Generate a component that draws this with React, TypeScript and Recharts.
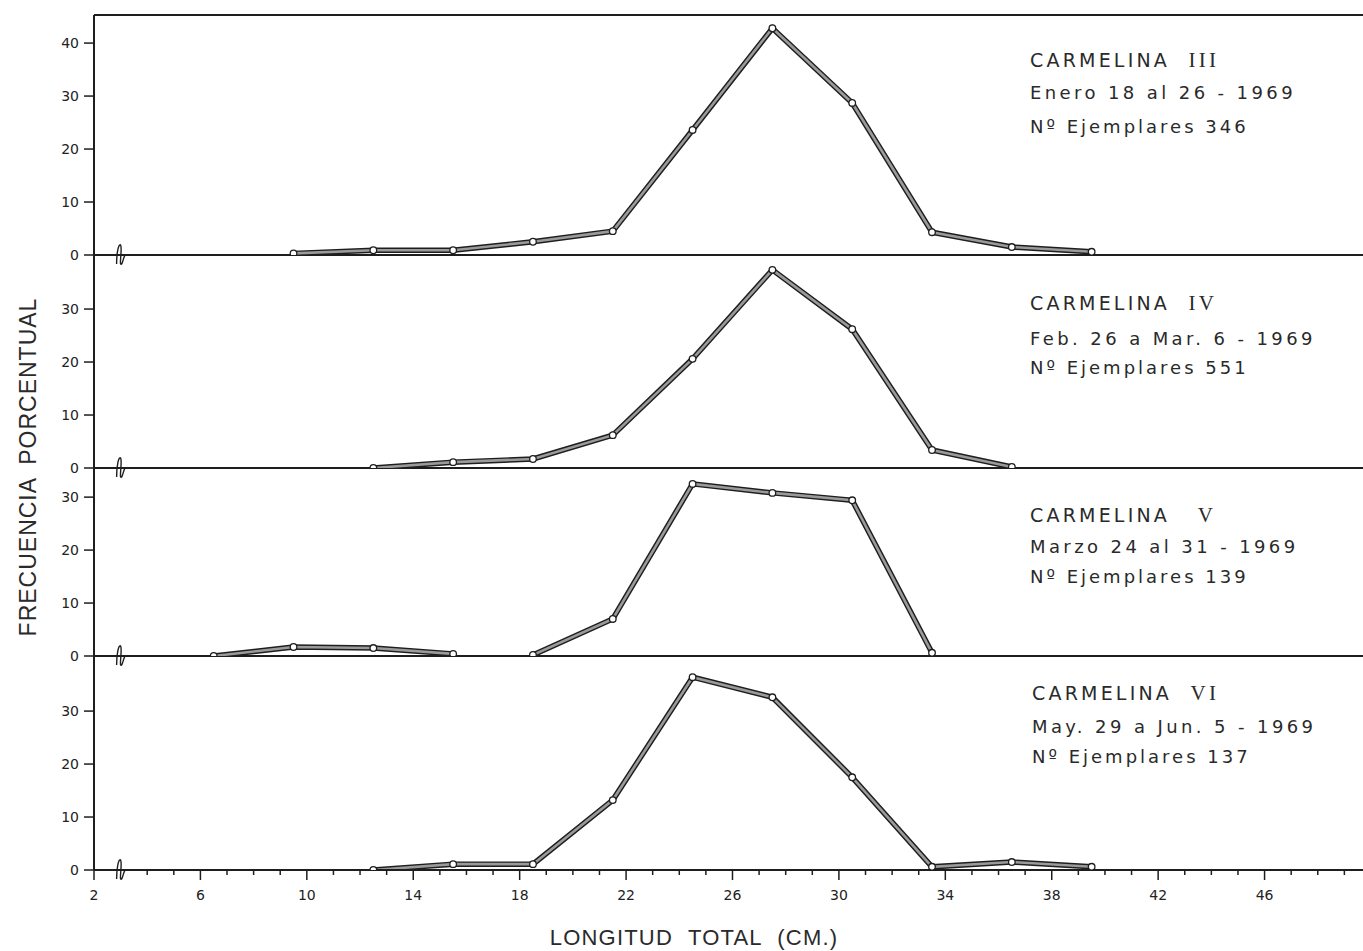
import React from "react";
import { LineChart, Line, XAxis, YAxis, ReferenceLine, ReferenceDot } from "recharts";

document.body.style.margin = "0";

// class midpoints (cm) and percentage frequency per sample
const III_X = [9.5, 12.5, 15.5, 18.5, 21.5, 24.5, 27.5, 30.5, 33.5, 36.5, 39.5];
const III_Y = [0.3, 0.9, 0.9, 2.5, 4.5, 23.6, 42.8, 28.7, 4.3, 1.5, 0.6];

const IV_X = [12.5, 15.5, 18.5, 21.5, 24.5, 27.5, 30.5, 33.5, 36.5];
const IV_Y = [0, 1.1, 1.7, 6.2, 20.6, 37.4, 26.2, 3.4, 0.2];

// Carmelina V is drawn in two pieces (no line between 15.5 and 18.5)
const V_X_A = [6.5, 9.5, 12.5, 15.5];
const V_Y_A = [0, 1.7, 1.5, 0.4];
const V_X_B = [18.5, 21.5, 24.5, 27.5, 30.5, 33.5];
const V_Y_B = [0.2, 7.0, 32.5, 30.8, 29.4, 0.6];

const VI_X = [12.5, 15.5, 18.5, 21.5, 24.5, 27.5, 30.5, 33.5, 36.5, 39.5];
const VI_Y = [0, 1.1, 1.1, 13.2, 36.4, 32.6, 17.5, 0.6, 1.5, 0.6];

const X_DOMAIN = [2, 49.7];
const X_TICKS = [2, 4, 5, 6, 7, 8, 9, 10, 11, 12, 13, 14, 15, 16, 17, 18, 19, 20, 21, 22, 23, 24, 25, 26, 27, 28, 29, 30, 31, 32, 33, 34, 35, 36, 37, 38, 39, 40, 41, 42, 43, 44, 45, 46, 47, 48, 49];
const X_LABELED = [2, 6, 10, 14, 18, 22, 26, 30, 34, 38, 42, 46];
const Y_TICKS_TOP = [0, 10, 20, 30, 40];
const Y_TICKS = [0, 10, 20, 30];

const INK = "#1e1e1e";
const FILL = "#9a9a9a";
const PAD = 20;

const toRows = (xs: number[], ys: number[], key = "y") => xs.map((x, i) => ({ x, [key]: ys[i] }));

function Dot(props: any) {
  const { cx, cy } = props;
  if (cx == null || cy == null) return null;
  return <circle cx={cx} cy={cy} r={3.3} fill="#fff" stroke={INK} strokeWidth={1.3} />;
}

function AxisBreak(props: any) {
  const { cx, cy } = props;
  return (
    <path
      d={`M ${cx - 4} ${cy + 9} C ${cx - 4} ${cy - 2}, ${cx - 2} ${cy - 12}, ${cx} ${cy - 10} C ${cx + 2} ${cy - 6}, ${cx - 2} ${cy + 12}, ${cx + 1} ${cy + 9} C ${cx + 3} ${cy + 6}, ${cx + 3} ${cy - 1}, ${cx + 6} ${cy}`}
      fill="none"
      stroke={INK}
      strokeWidth={1.4}
    />
  );
}

function XTick(props: any) {
  const { x, y, payload } = props;
  const major = X_LABELED.includes(payload.value);
  return (
    <g>
      <line x1={x} x2={x} y1={y} y2={y + (major ? 10 : 5)} stroke={INK} strokeWidth={1.5} />
      {major && (
        <text x={x} y={y + 30} textAnchor="middle" fontSize={14} fill="#222" fontFamily="DejaVu Sans">
          {payload.value}
        </text>
      )}
    </g>
  );
}

interface PanelProps {
  top: number;
  plotH: number;
  yMax: number;
  yTicks: number[];
  rows: any[];
  keys: string[];
  bottom?: boolean;
  frameTop?: boolean;
}

function Panel({ top, plotH, yMax, yTicks, rows, keys, bottom, frameTop }: PanelProps) {
  const xAxisH = bottom ? 40 : 0;
  return (
    <div style={{ position: "absolute", left: 0, top: top - PAD }}>
      <LineChart
        width={1363}
        height={plotH + PAD * 2 + xAxisH}
        data={rows}
        margin={{ top: PAD, right: 0, bottom: PAD, left: 0 }}
      >
        <XAxis
          type="number"
          dataKey="x"
          domain={X_DOMAIN}
          ticks={bottom ? X_TICKS : []}
          interval={0}
          height={xAxisH}
          axisLine={{ stroke: INK, strokeWidth: 2 }}
          tickLine={false}
          tickSize={0}
          tickMargin={0}
          tick={bottom ? <XTick /> : false}
          allowDataOverflow
        />
        <YAxis
          type="number"
          domain={[0, yMax]}
          ticks={yTicks}
          width={94}
          axisLine={{ stroke: INK, strokeWidth: 2 }}
          tickLine={{ stroke: INK, strokeWidth: 1.5 }}
          tickSize={10}
          tickMargin={5}
          tick={{ fontSize: 14, fill: "#222", fontFamily: "DejaVu Sans" }}
          allowDataOverflow
        />
        {frameTop && <ReferenceLine y={yMax} stroke={INK} strokeWidth={2} />}
        {!bottom && <ReferenceLine y={0} stroke={INK} strokeWidth={2} />}
        <ReferenceDot x={3} y={0} r={0} shape={<AxisBreak />} />
        {keys.map((k) => (
          <Line
            key={k + "o"}
            dataKey={k}
            type="linear"
            stroke={INK}
            strokeWidth={5.5}
            dot={false}
            activeDot={false}
            isAnimationActive={false}
          />
        ))}
        {keys.map((k) => (
          <Line
            key={k + "i"}
            dataKey={k}
            type="linear"
            stroke={FILL}
            strokeWidth={2.6}
            dot={<Dot />}
            activeDot={false}
            isAnimationActive={false}
          />
        ))}
      </LineChart>
    </div>
  );
}

function Legend({ left, tops, lines }: { left: number; tops: number[]; lines: [string, string, string] }) {
  const base: React.CSSProperties = {
    position: "absolute",
    left,
    whiteSpace: "pre",
    color: "#2a2a2a",
    fontFamily: "DejaVu Sans",
    lineHeight: "24px",
  };
  const [title, numeral] = lines[0].split("|");
  return (
    <>
      <div style={{ ...base, top: tops[0], fontSize: 19, letterSpacing: 3.2 }}>
        {title}
        <span style={{ fontFamily: "Liberation Serif", fontSize: 21 }}>{numeral}</span>
      </div>
      <div style={{ ...base, top: tops[1], fontSize: 18, letterSpacing: 3.4 }}>{lines[1]}</div>
      <div style={{ ...base, top: tops[2], fontSize: 18, letterSpacing: 3.0 }}>{lines[2]}</div>
    </>
  );
}

export default function App() {
  const rowsIII = toRows(III_X, III_Y);
  const rowsIV = toRows(IV_X, IV_Y);
  const rowsV = [...toRows(V_X_A, V_Y_A, "a"), ...toRows(V_X_B, V_Y_B, "b")];
  const rowsVI = toRows(VI_X, VI_Y);

  return (
    <div style={{ position: "relative", width: 1363, height: 951, background: "#fff", overflow: "hidden" }}>
      <Panel top={15} plotH={240} yMax={45.3} yTicks={Y_TICKS_TOP} rows={rowsIII} keys={["y"]} frameTop />
      <Panel top={255} plotH={213} yMax={40.2} yTicks={Y_TICKS} rows={rowsIV} keys={["y"]} />
      <Panel top={468} plotH={188} yMax={35.5} yTicks={Y_TICKS} rows={rowsV} keys={["a", "b"]} />
      <Panel top={656} plotH={214} yMax={40.4} yTicks={Y_TICKS} rows={rowsVI} keys={["y"]} bottom />

      <Legend left={1030} tops={[48, 81, 115]} lines={["CARMELINA  |III", "Enero 18 al 26 - 1969", "Nº Ejemplares 346"]} />
      <Legend left={1030} tops={[291, 327, 356]} lines={["CARMELINA  |IV", "Feb. 26 a Mar. 6 - 1969", "Nº Ejemplares 551"]} />
      <Legend left={1030} tops={[503, 535, 565]} lines={["CARMELINA   |V", "Marzo 24 al 31 - 1969", "Nº Ejemplares 139"]} />
      <Legend left={1032} tops={[681, 715, 745]} lines={["CARMELINA  |VI", "May. 29 a Jun. 5 - 1969", "Nº Ejemplares 137"]} />

      <div
        style={{
          position: "absolute",
          left: 28 - 200,
          top: 467 - 15,
          width: 400,
          height: 30,
          lineHeight: "30px",
          textAlign: "center",
          transform: "rotate(-90deg)",
          fontFamily: "Liberation Sans",
          fontSize: 23,
          letterSpacing: 1,
          wordSpacing: 6,
          color: "#2a2a2a",
        }}
      >
        FRECUENCIA PORCENTUAL
      </div>
      <div
        style={{
          position: "absolute",
          left: 494,
          top: 927,
          width: 400,
          lineHeight: "22px",
          textAlign: "center",
          fontFamily: "Liberation Sans",
          fontSize: 22,
          letterSpacing: 1.2,
          wordSpacing: 8,
          color: "#2a2a2a",
        }}
      >
        LONGITUD TOTAL (CM.)
      </div>
    </div>
  );
}
